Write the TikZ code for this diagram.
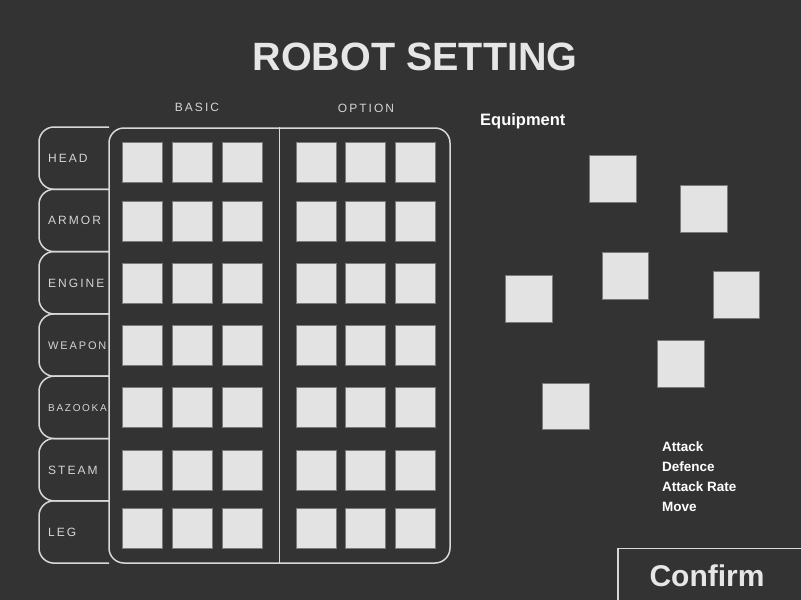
\documentclass[tikz,border=0pt]{standalone}
\usepackage{fontspec}
\setmainfont{Liberation Sans}
\newfontfamily\spacedfont[LetterSpace=17]{Liberation Sans}
\usepackage{tikz}
\definecolor{panel}{HTML}{333333}
\definecolor{rule}{HTML}{D8D8D8}
\definecolor{slotfill}{HTML}{E3E3E3}
\definecolor{slotedge}{HTML}{7A7A7A}
\definecolor{labelgray}{HTML}{D4D4D4}
\definecolor{titlegray}{HTML}{E6E6E6}

\begin{document}
\begin{tikzpicture}[x=1pt, y=-1pt,
    frame/.style={draw=rule, line width=1.5pt},
    slot/.style={draw=slotedge, fill=slotfill, line width=0.8pt, minimum size=40pt, inner sep=0pt},
    colhead/.style={text=labelgray, inner sep=0pt, font=\spacedfont\fontsize{12}{13}\selectfont},
    stat/.style={text=white, inner sep=0pt, font=\bfseries\fontsize{13.5}{14}\selectfont}]
      \fill[panel] (0,0) rectangle (801,600);
      \useasboundingbox (0,0) rectangle (801,600);

      \node[anchor=base, text=titlegray, inner sep=0pt] (title) at (415,70)
        {\fontsize{39.5}{40}\selectfont\bfseries ROBOT SETTING};

      % row tabs
      \foreach \name/\size [count=\k from 0] in {HEAD/12, ARMOR/12, ENGINE/12,
          WEAPON/11, BAZOOKA/10, STEAM/12, LEG/12}
      {
        \pgfmathsetmacro\tabtop{127+62.3*\k}
        \draw[frame, rounded corners=15pt]
          (109,\tabtop) -- (39,\tabtop) -- (39,\tabtop+62.3) -- (109,\tabtop+62.3);
        \node[anchor=west, text=labelgray, inner sep=0pt,
          font=\spacedfont\fontsize{\size}{13}\selectfont] (tab\k) at (48,\tabtop+31.5) {\name};
      }

      \node[frame, rounded corners=15pt, minimum width=341pt, minimum height=435pt,
        inner sep=0pt] (table) at (279.5,345.5) {};
      \draw[frame] (table.north) -- (table.south);

      \node[colhead, anchor=base] (basic) at (197,111.7) {BASIC};
      \node[colhead, anchor=base] (option) at (366,112) {OPTION};

      {\tikzstyle{every node}=[slot]
        \foreach \r/\y in {0/162.3, 1/221.3, 2/283.7, 3/345.7, 4/407.8, 5/470.3, 6/528.7}
        {
          \foreach \c/\x in {0/142.5, 1/192.7, 2/242.7, 3/316.3, 4/365.7, 5/415}
          {
            \node (slot\r\c) at (\x,\y) {};
          }
        }
      }

      \node[anchor=base west, text=white, inner sep=0pt, font=\bfseries\fontsize{16.5}{17}\selectfont]
        (equip) at (480,125) {Equipment};

      {\tikzstyle{every node}=[slot, minimum size=46.5pt]
        \node (gear1) at (612.7,178.8) {};
        \node (gear2) at (704,209) {};
        \node (gear3) at (625.3,275.8) {};
        \node (gear4) at (529,299) {};
        \node (gear5) at (736.3,295) {};
        \node (gear6) at (680.8,364) {};
        \node (gear7) at (566,406.2) {};
      }

      \node[stat, anchor=base west] (attack) at (662,451) {Attack};
      \node[stat, anchor=base west] (defence) at (662,471.5) {Defence};
      \node[stat, anchor=base west] (rate) at (662,491.5) {Attack Rate};
      \node[stat, anchor=base west] (move) at (662,511) {Move};

      \node[frame, anchor=north west, minimum width=220pt, minimum height=80pt]
        (confirm) at (617.3,547.7) {};
      \node[anchor=base, text=titlegray, inner sep=0pt,
        font=\bfseries\fontsize{30}{31}\selectfont] (confirmtext) at (707,586) {Confirm};
    \end{tikzpicture}
\end{document}
